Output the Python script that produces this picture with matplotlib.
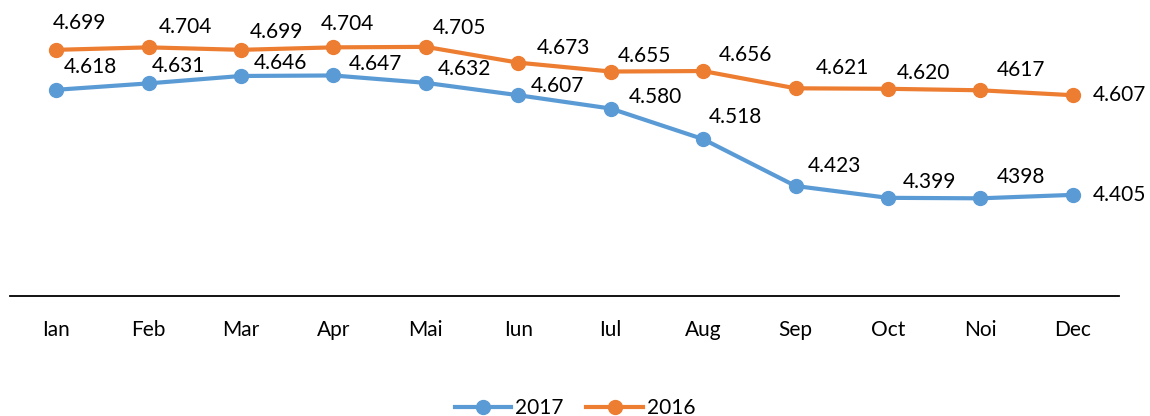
import matplotlib.pyplot as plt

months = ["Ian", "Feb", "Mar", "Apr", "Mai", "Iun", "Iul", "Aug", "Sep", "Oct", "Noi", "Dec"]

vals_2017 = [4.618, 4.631, 4.646, 4.647, 4.632, 4.607, 4.580, 4.518, 4.423, 4.399, 4.398, 4.405]
labels_2017 = ["4.618", "4.631", "4.646", "4.647", "4.632", "4.607", "4.580", "4.518",
               "4.423", "4.399", "4398", "4.405"]

vals_2016 = [4.699, 4.704, 4.699, 4.704, 4.705, 4.673, 4.655, 4.656, 4.621, 4.620, 4.617, 4.607]
labels_2016 = ["4.699", "4.704", "4.699", "4.704", "4.705", "4.673", "4.655", "4.656",
               "4.621", "4.620", "4617", "4.607"]

# label offsets (pixels) from each point, as placed in the original
off_2017 = [(34, 23), (30, 17), (39, 13), (42, 11), (39, 14), (39, 9), (45, 12), (32, 22),
            (39, 20), (42, 16), (41, 21), (47, 0)]
off_2016 = [(23, 27), (37, 20), (35, 18), (14, 23), (34, 19), (45, 15), (34, 16), (42, 16),
            (47, 20), (36, 16), (41, 20), (47, 0)]

blue = "#5B9BD5"
orange = "#ED7D31"

plt.rcParams['font.family'] = ['Lato', 'DejaVu Sans']

fig = plt.figure(figsize=(11.5, 4.16), dpi=100)
ax = fig.add_axes([10 / 1150, 120 / 416, 1109 / 1150, 296 / 416])

x = list(range(len(months)))
ax.plot(x, vals_2017, color=blue, lw=3, marker="o", ms=10, label="2017")
ax.plot(x, vals_2016, color=orange, lw=3, marker="o", ms=10, label="2016")

for xi, v, t, (dx, dy) in zip(x, vals_2017, labels_2017, off_2017):
    ax.annotate(t, (xi, v), xytext=(dx, dy), textcoords="offset pixels",
                ha="center", va="center", fontsize=15, color="black")
for xi, v, t, (dx, dy) in zip(x, vals_2016, labels_2016, off_2016):
    ax.annotate(t, (xi, v), xytext=(dx, dy), textcoords="offset pixels",
                ha="center", va="center", fontsize=15, color="black")

ax.set_xlim(-0.5, 11.5)
ax.set_ylim(4.2, 4.8)
ax.set_xticks(x)
ax.set_xticklabels(months, fontsize=15)
ax.tick_params(axis="x", length=0, pad=17)
ax.set_yticks([])
for s in ["top", "left", "right"]:
    ax.spines[s].set_visible(False)
ax.spines["bottom"].set_color("black")
ax.spines["bottom"].set_linewidth(1.3)

fig.legend(loc="center", bbox_to_anchor=(0.5, 8 / 416), ncol=2, frameon=False,
           fontsize=15, handlelength=2.7, handletextpad=0.2, columnspacing=1.1)

fig.savefig("out.png", dpi=100)
